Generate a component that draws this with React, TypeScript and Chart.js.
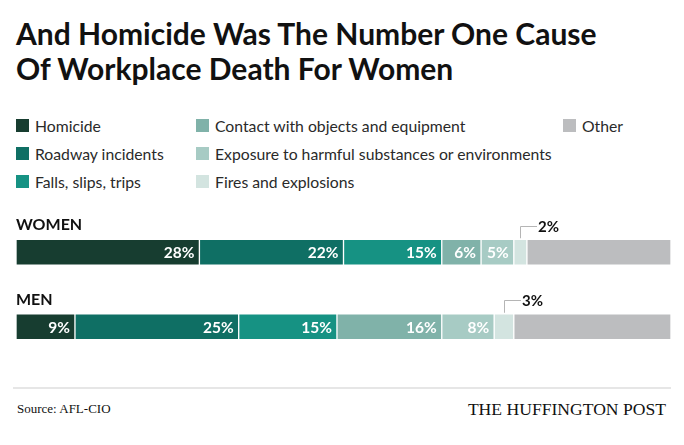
import React, { useEffect, useRef } from "react";
import { Chart, registerables } from "chart.js";

Chart.register(...registerables);

const categories = ["WOMEN", "MEN"];
const causes = [
  "Homicide",
  "Roadway incidents",
  "Falls, slips, trips",
  "Contact with objects and equipment",
  "Exposure to harmful substances or environments",
  "Fires and explosions",
  "Other",
];
const women = [28, 22, 15, 6, 5, 2, 22];
const men = [9, 25, 15, 16, 8, 3, 24];
const colors = ["#173d30", "#0f6f64", "#169283", "#80b2a9", "#a7cbc4", "#d3e4e0", "#bcbdbf"];
const title = ["And Homicide Was The Number One Cause", "Of Workplace Death For Women"];
const source = "Source: AFL-CIO";
const brand = "THE HUFFINGTON POST";

// legend columns (column-major order)
const legendColumns = [[0, 1, 2], [3, 4, 5], [6]];
const legendColX = [16, 196, 563];

const labelPlugin = {
  id: "segLabels",
  afterDatasetsDraw(chart: any) {
    const ctx = chart.ctx;
    ctx.save();
    const meta0 = chart.getDatasetMeta(0);
    meta0.data.forEach((el: any, i: number) => {
      ctx.font = "700 16px Lato";
      ctx.fillStyle = "#111";
      ctx.textAlign = "left";
      ctx.textBaseline = "alphabetic";
      ctx.fillText(chart.data.labels[i], chart.chartArea.left, el.y - 22);
    });
    chart.data.datasets.forEach((ds: any, di: number) => {
      const meta = chart.getDatasetMeta(di);
      meta.data.forEach((el: any, i: number) => {
        const v = ds.data[i];
        if (di === 6) return;
        const half = el.height / 2;
        if (di === 5) {
          const cx = (el.x + el.base) / 2;
          const top = el.y - half;
          const ly = top - 13.5;
          ctx.strokeStyle = "#b5b5b5";
          ctx.lineWidth = 1;
          ctx.beginPath();
          ctx.moveTo(Math.round(cx) + 0.5, top - 1);
          ctx.lineTo(Math.round(cx) + 0.5, Math.round(ly) + 0.5);
          ctx.lineTo(Math.round(cx) + 17, Math.round(ly) + 0.5);
          ctx.stroke();
          ctx.font = "700 15px Lato";
          ctx.fillStyle = "#111";
          ctx.textAlign = "left";
          ctx.textBaseline = "middle";
          ctx.fillText(v + "%", Math.round(cx) + 18, ly + 1);
          return;
        }
        ctx.font = "700 15.5px Lato";
        ctx.fillStyle = "#ffffff";
        ctx.textAlign = "right";
        ctx.textBaseline = "middle";
        ctx.fillText(v + "%", el.x - 5, el.y + 1);
      });
    });
    ctx.restore();
  },
};

export default function App() {
  const ref = useRef<HTMLCanvasElement>(null);
  useEffect(() => {
    if (!ref.current) return;
    const chart = new Chart(ref.current, {
      type: "bar",
      data: {
        labels: categories,
        datasets: causes.map((c, i) => ({
          label: c,
          data: [women[i], men[i]],
          backgroundColor: colors[i],
          borderColor: "rgba(255,255,255,0.45)",
          borderWidth: 1,
          borderSkipped: false,
          barThickness: 26,
        })),
      },
      options: {
        indexAxis: "y",
        animation: false,
        responsive: false,
        maintainAspectRatio: false,
        layout: { padding: { left: 16, right: 13, top: 15, bottom: 6 } },
        scales: {
          x: { stacked: true, min: 0, max: 100, display: false },
          y: { stacked: true, display: false },
        },
        plugins: { legend: { display: false }, tooltip: { enabled: false }, title: { display: false } },
      },
      plugins: [labelPlugin],
    });
    return () => chart.destroy();
  }, []);

  return (
    <div style={{ position: "absolute", left: 0, top: 0, width: 684, height: 445, background: "#fff", overflow: "hidden" }}>
      <div
        style={{
          position: "absolute",
          left: 16,
          top: 16,
          font: "700 30px Lato",
          lineHeight: "35px",
          color: "#111",
          whiteSpace: "nowrap",
        }}
      >
        {title.map((t) => (
          <div key={t}>{t}</div>
        ))}
      </div>
      {legendColumns.map((col, ci) =>
        col.map((idx, ri) => (
          <div
            key={idx}
            style={{
              position: "absolute",
              left: legendColX[ci],
              top: 111 + ri * 28,
              height: 28,
              display: "flex",
              alignItems: "center",
              font: "400 15.75px Lato",
              color: "#2a2a2a",
              whiteSpace: "nowrap",
            }}
          >
            <span style={{ display: "inline-block", width: 13, height: 13, background: colors[idx], marginRight: 6 }} />
            <span>{causes[idx]}</span>
          </div>
        ))
      )}
      <canvas ref={ref} width={684} height={170} style={{ position: "absolute", left: 0, top: 200, width: 684, height: 170 }} />
      <div style={{ position: "absolute", left: 13, top: 387, width: 658, height: 2, background: "#e6e6e6" }} />
      <div style={{ position: "absolute", left: 17, top: 402, font: "400 13px 'Liberation Serif'", lineHeight: "13px", color: "#111", whiteSpace: "nowrap" }}>
        {source}
      </div>
      <div style={{ position: "absolute", right: 18, top: 400, font: "400 17.6px 'Liberation Serif'", lineHeight: "18px", color: "#111", whiteSpace: "nowrap" }}>
        {brand}
      </div>
    </div>
  );
}
